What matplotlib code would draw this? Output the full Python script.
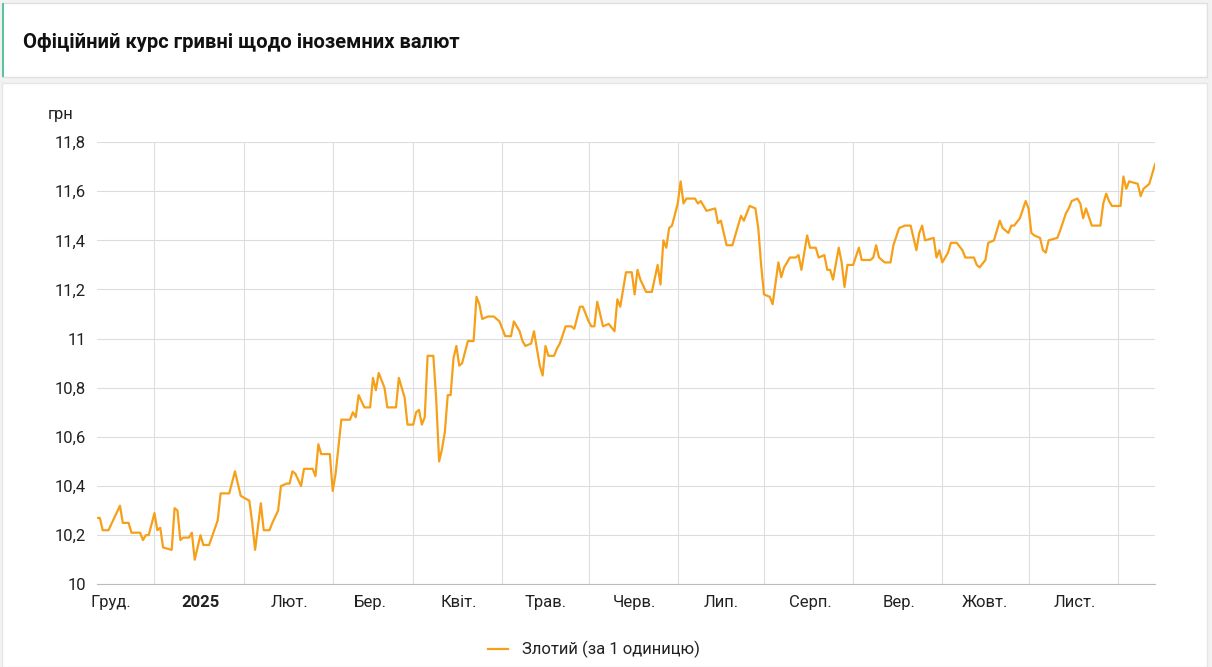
import datetime
import matplotlib
matplotlib.use('Agg')
import matplotlib.pyplot as plt
from matplotlib.patches import Rectangle

title = 'Офіційний курс гривні щодо іноземних валют'
series_name = 'Злотий (за 1 одиницю)'
base = datetime.date(2024, 12, 1)

# days since 2024-12-01
days = [-5, -4, -3, -1, 3, 4, 6, 7, 10, 11, 12, 13, 15, 16, 17, 18, 21, 22, 23, 24, 25, 27, 28, 29,
        31, 32, 34, 37, 38, 41, 43, 45, 48, 49, 50, 52, 53, 55, 56, 58, 59, 61, 62, 63, 64, 66, 67,
        70, 71, 72, 73, 76, 77, 78, 80, 83, 84, 85, 86, 88, 90, 91, 92, 93, 95, 96, 99, 100, 102,
        103, 105, 106, 107, 108, 109, 110, 112, 113, 114, 115, 116, 117, 118, 119, 120, 121, 122,
        124, 126, 127, 128, 129, 131, 133, 135, 137, 139, 140, 142, 143, 144, 146, 147, 149, 150,
        151, 152, 154, 155, 156, 158, 160, 161, 163, 164, 166, 167, 168, 169, 170, 171, 173, 175,
        176, 177, 179, 181, 182, 183, 184, 186, 188, 190, 191, 192, 193, 194, 195, 197, 198, 199,
        200, 203, 204, 205, 207, 210, 211, 212, 214, 216, 218, 219, 220, 222, 224, 225, 226, 227,
        229, 230, 232, 233, 234, 236, 238, 239, 240, 242, 243, 245, 246, 248, 249, 250, 251, 253,
        254, 255, 256, 258, 260, 261, 264, 265, 266, 267, 269, 271, 272, 274, 276, 278, 280, 281,
        282, 283, 286, 287, 288, 289, 291, 292, 294, 296, 297, 300, 301, 302, 304, 305, 307, 309,
        310, 312, 313, 314, 316, 318, 319, 320, 321, 323, 324, 325, 326, 329, 330, 332, 333, 334,
        336, 337, 338, 339, 341, 344, 345, 346, 347, 348, 351, 352, 353, 354, 357, 358, 359, 361, 363]
rates = [10.27, 10.27, 10.22, 10.22, 10.32, 10.25, 10.25, 10.21, 10.21, 10.18, 10.20, 10.20, 10.29,
         10.22, 10.23, 10.15, 10.14, 10.31, 10.30, 10.18, 10.19, 10.19, 10.21, 10.10, 10.20, 10.16,
         10.16, 10.26, 10.37, 10.37, 10.46, 10.36, 10.34, 10.25, 10.14, 10.33, 10.22, 10.22, 10.25,
         10.30, 10.40, 10.41, 10.41, 10.46, 10.45, 10.40, 10.47, 10.47, 10.44, 10.57, 10.53, 10.53,
         10.38, 10.45, 10.67, 10.67, 10.70, 10.68, 10.77, 10.72, 10.72, 10.84, 10.79, 10.86, 10.80,
         10.72, 10.72, 10.84, 10.76, 10.65, 10.65, 10.70, 10.71, 10.65, 10.68, 10.93, 10.93, 10.75,
         10.50, 10.55, 10.62, 10.77, 10.77, 10.92, 10.97, 10.89, 10.90, 10.99, 10.99, 11.17, 11.14,
         11.08, 11.09, 11.09, 11.07, 11.01, 11.01, 11.07, 11.03, 10.99, 10.97, 10.98, 11.03, 10.89,
         10.85, 10.97, 10.93, 10.93, 10.96, 10.98, 11.05, 11.05, 11.04, 11.13, 11.13, 11.07, 11.05,
         11.05, 11.15, 11.10, 11.05, 11.06, 11.03, 11.16, 11.13, 11.27, 11.27, 11.18, 11.28, 11.24,
         11.19, 11.19, 11.30, 11.22, 11.40, 11.37, 11.45, 11.46, 11.55, 11.64, 11.55, 11.57, 11.57,
         11.55, 11.56, 11.52, 11.53, 11.47, 11.48, 11.38, 11.38, 11.46, 11.50, 11.48, 11.54, 11.53,
         11.45, 11.30, 11.18, 11.17, 11.14, 11.31, 11.25, 11.29, 11.33, 11.33, 11.34, 11.28, 11.42,
         11.37, 11.37, 11.33, 11.34, 11.28, 11.28, 11.24, 11.37, 11.31, 11.21, 11.30, 11.30, 11.37,
         11.32, 11.32, 11.33, 11.38, 11.33, 11.31, 11.31, 11.38, 11.45, 11.46, 11.46, 11.36, 11.43,
         11.46, 11.40, 11.41, 11.33, 11.36, 11.31, 11.35, 11.39, 11.39, 11.36, 11.33, 11.33, 11.30,
         11.29, 11.32, 11.39, 11.40, 11.48, 11.45, 11.43, 11.46, 11.46, 11.49, 11.56, 11.53, 11.43,
         11.42, 11.41, 11.36, 11.35, 11.40, 11.41, 11.44, 11.51, 11.53, 11.56, 11.57, 11.55, 11.49,
         11.53, 11.46, 11.46, 11.55, 11.59, 11.56, 11.54, 11.54, 11.66, 11.61, 11.64, 11.63, 11.58,
         11.61, 11.63, 11.71]

month_labels = ['Груд.', '2025', 'Лют.', 'Бер.', 'Квіт.', 'Трав.', 'Черв.', 'Лип.',
                'Серп.', 'Вер.', 'Жовт.', 'Лист.']
month_starts = [datetime.date(2024, 12, 1)] + [datetime.date(2025, m, 1) for m in range(1, 12)]
y_ticks = [10, 10.2, 10.4, 10.6, 10.8, 11, 11.2, 11.4, 11.6, 11.8]

plt.rcParams['font.family'] = ['Roboto', 'DejaVu Sans']

fig = plt.figure(figsize=(12.12, 6.67), dpi=100)
fig.patch.set_facecolor('#f2f2f2')
# white card and header
fig.patches.append(Rectangle((0.002, 0.0), 0.994, 0.875, transform=fig.transFigure,
                             facecolor='white', edgecolor='#e6e6e6', zorder=0))
fig.patches.append(Rectangle((0.002, 0.885), 0.994, 0.11, transform=fig.transFigure,
                             facecolor='white', edgecolor='#e0e0e0', zorder=0))
fig.patches.append(Rectangle((0.002, 0.885), 0.0015, 0.11, transform=fig.transFigure,
                             facecolor='#5cc49a', edgecolor='none', zorder=1))
fig.text(0.019, 0.937, title, fontsize=14.5, fontweight='bold', va='center', color='#111111')

ax = fig.add_axes([0.080, 0.124, 0.873, 0.663])
ax.set_zorder(5)
ax.patch.set_alpha(0)
dates = [base + datetime.timedelta(days=d) for d in days]
line, = ax.plot(dates, rates, color='#f6a01a', lw=1.6)

ax.set_xlim(base + datetime.timedelta(days=-5), base + datetime.timedelta(days=363))
ax.set_ylim(10, 11.8)
ax.set_yticks(y_ticks)
ax.set_yticklabels([('%g' % v).replace('.', ',') for v in y_ticks])
ax.set_xticks(month_starts)
ax.set_xticklabels(month_labels)
for lab in ax.get_xticklabels():
    if lab.get_text() == '2025':
        lab.set_fontweight('bold')
for d in month_starts:
    ax.axvline(d + datetime.timedelta(days=15), color='#dddddd', lw=0.8, zorder=0)
ax.grid(axis='y', color='#dddddd', lw=0.8)
ax.set_axisbelow(True)
ax.tick_params(length=0, labelsize=12, colors='#222222', pad=8)
for s in ['top', 'right', 'left']:
    ax.spines[s].set_visible(False)
ax.spines['bottom'].set_color('#bbbbbb')
fig.text(0.039, 0.828, 'грн', fontsize=12, color='#222222', va='center')

leg = fig.legend([line], [series_name], loc='center', bbox_to_anchor=(0.49, 0.026), frameon=False,
                 fontsize=12, handlelength=1.2, labelcolor='#222222')
leg.set_zorder(6)

fig.savefig('out.png', dpi=100)
